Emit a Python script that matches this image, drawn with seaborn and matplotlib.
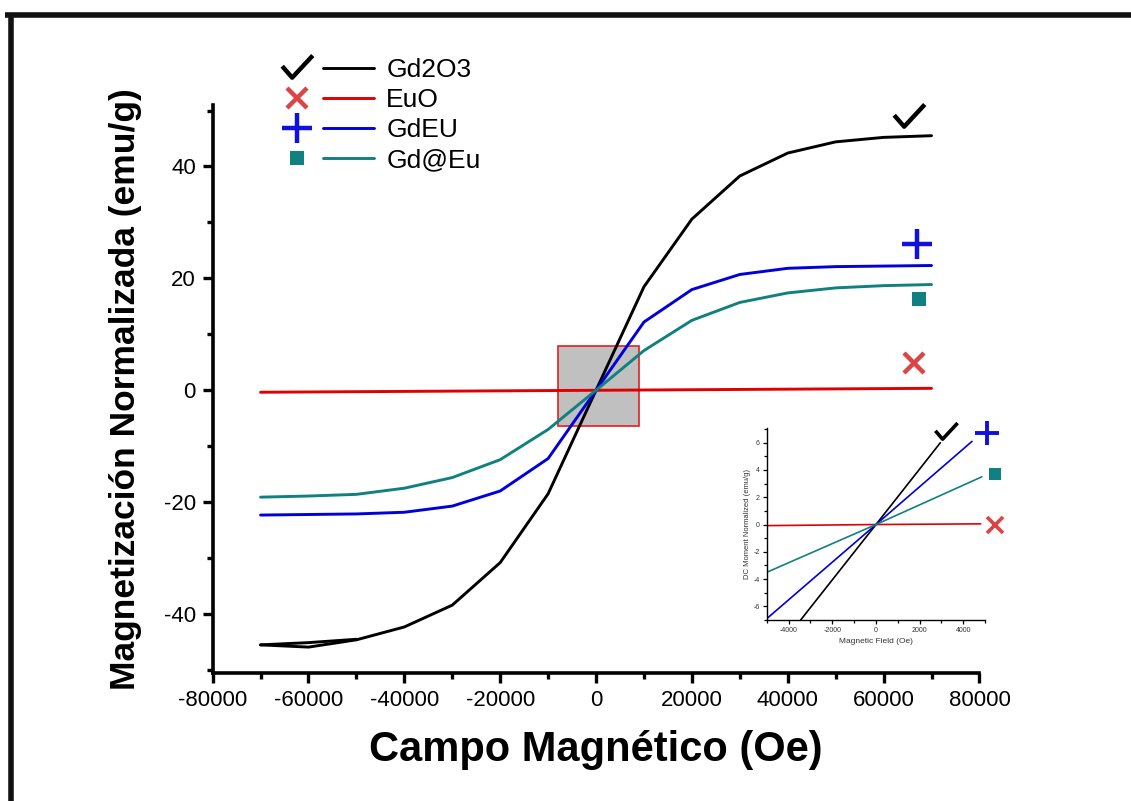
import numpy as np
import pandas as pd
import matplotlib
matplotlib.use("Agg")
import matplotlib.pyplot as plt
from matplotlib.path import Path
from matplotlib.lines import Line2D
from matplotlib.patches import Rectangle
from matplotlib.legend_handler import HandlerTuple
from matplotlib.ticker import MultipleLocator
import seaborn as sns

# ---- data -------------------------------------------------------------
field = [-70000, -60000, -50000, -40000, -30000, -20000, -10000, 0,
         10000, 20000, 30000, 40000, 50000, 60000, 70000]
gd2o3 = [-45.5, -45.9, -44.6, -42.3, -38.4, -30.8, -18.5, 0.0,
         18.5, 30.6, 38.3, 42.4, 44.4, 45.2, 45.5]
gd2o3_return_field = [-70000, -60000, -50000]
gd2o3_return = [-45.5, -45.1, -44.5]
euo = [-0.35, -0.30, -0.25, -0.20, -0.15, -0.10, -0.05, 0.0,
       0.05, 0.10, 0.15, 0.20, 0.25, 0.30, 0.35]
gdeu = [-22.3, -22.2, -22.1, -21.8, -20.7, -18.0, -12.2, 0.0,
        12.2, 18.0, 20.7, 21.8, 22.1, 22.2, 22.3]
gd_at_eu = [-19.1, -18.9, -18.6, -17.5, -15.6, -12.4, -7.0, 0.0,
            7.1, 12.5, 15.7, 17.4, 18.3, 18.7, 18.9]

series_names = ["Gd2O3", "EuO", "GdEU", "Gd@Eu"]
series_colors = ["#000000", "#e00000", "#0000dd", "#118080"]
marker_colors = ["#000000", "#dd4444", "#1010e0", "#118080"]

# label marker positions next to curve ends
label_x = [65300, 66300, 67000, 67400]
label_y = [48.9, 4.8, 26.2, 16.3]

# zoom window around the origin
zoom_box = (-8000, 9000, -6.4, 7.9)

# low-field detail
inset_field = {
    "Gd2O3": [-3450, 0, 2950],
    "EuO": [-5000, 0, 4800],
    "GdEU": [-5000, 0, 4400],
    "Gd@Eu": [-5000, 0, 4850],
}
inset_moment = {
    "Gd2O3": [-7.0, 0.0, 6.0],
    "EuO": [-0.08, 0.0, 0.05],
    "GdEU": [-6.9, 0.0, 6.1],
    "Gd@Eu": [-3.5, 0.0, 3.5],
}
inset_label_x = [3220, 5440, 5070, 5440]
inset_label_y = [6.8, 0.0, 6.7, 3.7]

x_ticks = [-80000, -60000, -40000, -20000, 0, 20000, 40000, 60000, 80000]
y_ticks = [-40, -20, 0, 20, 40]

# ---- style ------------------------------------------------------------
sns.set_style("ticks")
plt.rcParams["font.family"] = ["Liberation Sans", "DejaVu Sans"]
plt.rcParams["axes.unicode_minus"] = False
plt.rcParams["text.color"] = "black"
plt.rcParams["axes.labelcolor"] = "black"
plt.rcParams["xtick.color"] = "black"
plt.rcParams["ytick.color"] = "black"
plt.rcParams["axes.edgecolor"] = "black"

check = Path([(-1.0, 0.15), (-0.35, -0.6), (1.0, 0.85)],
             [Path.MOVETO, Path.LINETO, Path.LINETO])
marker_styles = [
    dict(marker=check, markersize=22, mew=3.2, mfc="none"),
    dict(marker="x", markersize=15, mew=3.2),
    dict(marker="+", markersize=22, mew=3.2),
    dict(marker="s", markersize=10, mew=0),
]

fig = plt.figure(figsize=(11.31, 8.01), dpi=100)
ax = fig.add_axes([0.188, 0.16, 0.678, 0.709])

df = pd.DataFrame({"field": field, "Gd2O3": gd2o3, "EuO": euo,
                   "GdEU": gdeu, "Gd@Eu": gd_at_eu})

x0, x1, y0, y1 = zoom_box
ax.add_patch(Rectangle((x0, y0), x1 - x0, y1 - y0, facecolor="#c0c0c0",
                       edgecolor="#e02020", lw=1.2, zorder=1))

for name, col in zip(series_names, series_colors):
    sns.lineplot(data=df, x="field", y=name, ax=ax, color=col, lw=2.1,
                 sort=False, estimator=None, zorder=3)
sns.lineplot(x=gd2o3_return_field, y=gd2o3_return, ax=ax, color="#000000",
             lw=2.1, sort=False, estimator=None, zorder=3)

for xm, ym, col, st in zip(label_x, label_y, marker_colors, marker_styles):
    ax.plot([xm], [ym], ls="none", color=col, mec=col, clip_on=False, **st)

ax.set_xlim(-80000, 80000)
ax.set_ylim(-50.5, 51)
ax.set_xticks(x_ticks)
ax.set_yticks(y_ticks)
ax.xaxis.set_minor_locator(MultipleLocator(10000))
ax.yaxis.set_minor_locator(MultipleLocator(10))
ax.tick_params(which="major", direction="out", length=7, width=2.4,
               labelsize=16, pad=5)
ax.tick_params(which="minor", direction="out", length=4, width=2.4)
for s in ["left", "bottom"]:
    ax.spines[s].set_linewidth(2.6)
sns.despine(ax=ax)
ax.set_xlabel("Campo Magnético (Oe)", fontsize=30, fontweight="bold",
              labelpad=14)
ax.set_ylabel("Magnetización Normalizada (emu/g)", fontsize=25.5,
              fontweight="bold", labelpad=16)

# legend: marker, line, label
handles = []
for col, mcol, st in zip(series_colors, marker_colors, marker_styles):
    mk = Line2D([], [], ls="none", color=mcol, mec=mcol, **st)
    ln = Line2D([], [], color=col, lw=2.1)
    handles.append((mk, ln))
fig.legend(handles, series_names, handler_map={tuple: HandlerTuple(ndivide=None, pad=0.0)},
           loc="upper left", bbox_to_anchor=(0.240, 0.927), frameon=False,
           fontsize=19, handlelength=3.9, handletextpad=0.45,
           labelspacing=0.22, borderpad=0, borderaxespad=0)

# ---- inset ------------------------------------------------------------
ins = fig.add_axes([0.678, 0.226, 0.193, 0.240])
ins.set_facecolor("none")
for name, col in zip(series_names, series_colors):
    sns.lineplot(x=inset_field[name], y=inset_moment[name], ax=ins,
                 color=col, lw=1.2, sort=False, estimator=None)
ins_styles = [
    dict(marker=check, markersize=16, mew=2.6, mfc="none"),
    dict(marker="x", markersize=12, mew=2.6),
    dict(marker="+", markersize=17, mew=2.8),
    dict(marker="s", markersize=9, mew=0),
]
for xm, ym, col, st in zip(inset_label_x, inset_label_y, marker_colors, ins_styles):
    ins.plot([xm], [ym], ls="none", color=col, mec=col, clip_on=False, **st)
ins.set_xlim(-5000, 5000)
ins.set_ylim(-7, 7.1)
ins.set_xticks([-4000, -2000, 0, 2000, 4000])
ins.set_yticks([-6, -4, -2, 0, 2, 4, 6])
ins.xaxis.set_minor_locator(MultipleLocator(1000))
ins.yaxis.set_minor_locator(MultipleLocator(1))
ins.tick_params(which="major", direction="out", length=3, width=0.9,
                labelsize=5, pad=2, labelcolor="#333333")
ins.tick_params(which="minor", direction="out", length=2, width=0.9)
for s in ["left", "bottom"]:
    ins.spines[s].set_linewidth(1.0)
sns.despine(ax=ins)
ins.set_xlabel("Magnetic Field (Oe)", fontsize=6, labelpad=3, color="#333333")
ins.set_ylabel("DC Moment Normalized (emu/g)", fontsize=5.5, labelpad=2,
               color="#333333")

# frame edges
fig.add_artist(Line2D([0.004, 1.0], [0.981, 0.981], transform=fig.transFigure,
                      color="#111111", lw=4.0, solid_capstyle="butt"))
fig.add_artist(Line2D([0.0095, 0.0095], [0.0, 0.983], transform=fig.transFigure,
                      color="#111111", lw=4.0, solid_capstyle="butt"))

fig.savefig("out.png", dpi=100, facecolor="white")
